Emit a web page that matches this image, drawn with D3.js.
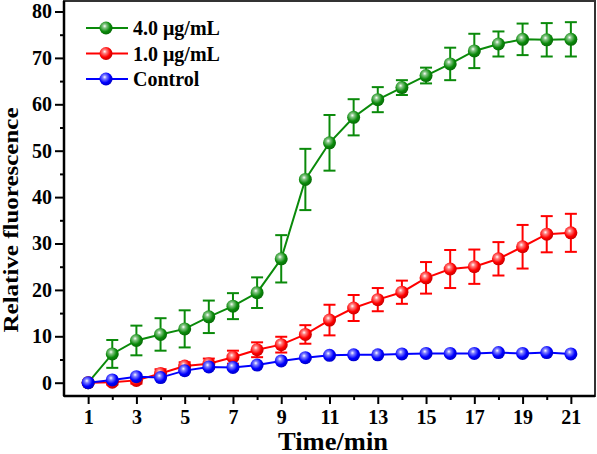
<!DOCTYPE html>
<html><head><meta charset="utf-8">
<script src="https://cdn.jsdelivr.net/npm/d3@7"></script>
<style>body{margin:0;background:#fff}svg{display:block}</style>
</head><body>
<svg id="c" width="597" height="454"></svg>
<script>
const times = d3.range(1, 22);
const green = [0,6.2,9.1,10.4,11.6,14.2,16.5,19.4,26.7,43.8,51.7,57.2,61.0,63.6,66.2,68.7,71.5,73.0,74.0,73.9,74.0];
const greenErr = [0,3.0,3.2,3.5,4.0,3.5,2.8,3.3,5.1,6.6,6.0,3.9,2.7,1.6,1.7,3.5,3.7,2.7,3.4,3.6,3.7];
const red = [0,0.1,0.5,2.0,3.6,4.1,5.5,7.1,8.2,10.4,13.5,16.1,17.9,19.5,22.6,24.5,25.0,26.7,29.3,32.0,32.3];
const redErr = [0,0.5,0.7,0.9,0.8,1.1,1.4,1.6,1.7,2.0,3.3,2.8,2.5,2.5,3.4,4.1,3.7,3.6,4.7,3.9,4.1];
const blue = [0,0.6,1.3,1.1,2.6,3.4,3.3,3.8,4.7,5.4,5.9,6.0,6.0,6.2,6.3,6.3,6.3,6.5,6.3,6.5,6.2];
const blueErr = times.map(() => 0.3);
const seriesNames = ["4.0 \u03bcg/mL", "1.0 \u03bcg/mL", "Control"];
const seriesColors = ["#0a8a0a", "#ff0000", "#0000ff"];
const xTicks = [1,3,5,7,9,11,13,15,17,19,21];
const yTicks = [0,10,20,30,40,50,60,70,80];

const svg = d3.select("#c");
const L = 64, R = 595, T = 1, B = 396;
const x = d3.scaleLinear().domain([0, 22]).range([L, R]);
const y = d3.scaleLinear().domain([0, 80]).range([382.7, 11.5]);
const font = "'Liberation Serif','Times New Roman',serif";

// gradients
const defs = svg.append("defs");
seriesColors.forEach((c, i) => {
  const g = defs.append("radialGradient").attr("id", "g" + i)
    .attr("cx", "40%").attr("cy", "38%").attr("r", "60%").attr("fx", "40%").attr("fy", "35%");
  g.append("stop").attr("offset", "0%").attr("stop-color", "#ffffff");
  g.append("stop").attr("offset", "25%").attr("stop-color", d3.interpolateRgb("#fff", c)(0.5));
  g.append("stop").attr("offset", "70%").attr("stop-color", c);
  g.append("stop").attr("offset", "100%").attr("stop-color", d3.color(c).darker(0.6));
});

// frame
svg.append("rect").attr("x", L).attr("y", T).attr("width", R - L).attr("height", B - T)
  .attr("fill", "none").attr("stroke", "#333").attr("stroke-width", 2);

// axes
const xAxis = d3.axisBottom(x).tickValues(xTicks).tickSize(8).tickPadding(6);
svg.append("g").attr("transform", `translate(0,${B})`).call(xAxis);
const xMinor = d3.axisBottom(x).tickValues(d3.range(2, 22, 2)).tickSize(4).tickFormat("");
svg.append("g").attr("transform", `translate(0,${B})`).call(xMinor).select(".domain").remove();
const yAxis = d3.axisLeft(y).tickValues(yTicks).tickSize(9).tickPadding(3);
svg.append("g").attr("transform", `translate(${L},0)`).call(yAxis);
const yMinor = d3.axisLeft(y).tickValues(d3.range(5, 81, 10)).tickSize(4).tickFormat("");
svg.append("g").attr("transform", `translate(${L},0)`).call(yMinor).select(".domain").remove();
svg.selectAll(".domain").remove();
svg.selectAll(".tick line").attr("stroke", "#000").attr("stroke-width", 2);
svg.selectAll(".tick text").attr("font-family", font).attr("font-weight", "bold").attr("font-size", 20).attr("fill", "#000");
svg.append("line").attr("x1", L).attr("x2", R).attr("y1", B).attr("y2", B).attr("stroke", "#000").attr("stroke-width", 2.5);
svg.append("line").attr("x1", L).attr("x2", L).attr("y1", T).attr("y2", B).attr("stroke", "#000").attr("stroke-width", 2.5);

// titles
svg.append("text").attr("x", 333).attr("y", 450).attr("text-anchor", "middle")
  .attr("font-family", font).attr("font-weight", "bold").attr("font-size", 25)
  .attr("textLength", 110).attr("lengthAdjust", "spacingAndGlyphs").text("Time/min");
svg.append("text").attr("transform", "translate(18,220) rotate(-90)").attr("text-anchor", "middle")
  .attr("font-family", font).attr("font-weight", "bold").attr("font-size", 21)
  .attr("textLength", 225).attr("lengthAdjust", "spacingAndGlyphs").text("Relative fluorescence");

// series
const data = [[green, greenErr], [red, redErr], [blue, blueErr]];
const line = d3.line().x((d, i) => x(times[i])).y(d => y(d));
[0, 1, 2].forEach(si => {
  const [vals, errs] = data[si];
  const c = seriesColors[si];
  const g = svg.append("g");
  vals.forEach((v, i) => {
    const e = errs[i];
    if (e < 0.4) return;
    const xi = x(times[i]);
    g.append("line").attr("x1", xi).attr("x2", xi).attr("y1", y(v + e)).attr("y2", y(v - e)).attr("stroke", c).attr("stroke-width", 2);
    [v + e, v - e].forEach(w => g.append("line").attr("x1", xi - 6).attr("x2", xi + 6).attr("y1", y(w)).attr("y2", y(w)).attr("stroke", c).attr("stroke-width", 2));
  });
  g.append("path").datum(vals).attr("d", line).attr("fill", "none").attr("stroke", c).attr("stroke-width", 2);
  g.selectAll("circle").data(vals).enter().append("circle")
    .attr("cx", (d, i) => x(times[i])).attr("cy", d => y(d)).attr("r", 6.5).attr("fill", `url(#g${si})`);
});

// legend
seriesNames.forEach((n, i) => {
  const yy = 28 + i * 25.5;
  const c = seriesColors[i];
  svg.append("line").attr("x1", 86).attr("x2", 128).attr("y1", yy).attr("y2", yy).attr("stroke", c).attr("stroke-width", 2);
  svg.append("circle").attr("cx", 106).attr("cy", yy).attr("r", 6.5).attr("fill", `url(#g${i})`);
  svg.append("text").attr("x", 133).attr("y", yy + 7).attr("font-family", font).attr("font-weight", "bold")
    .attr("font-size", 20).text(n);
});
</script>
</body></html>
